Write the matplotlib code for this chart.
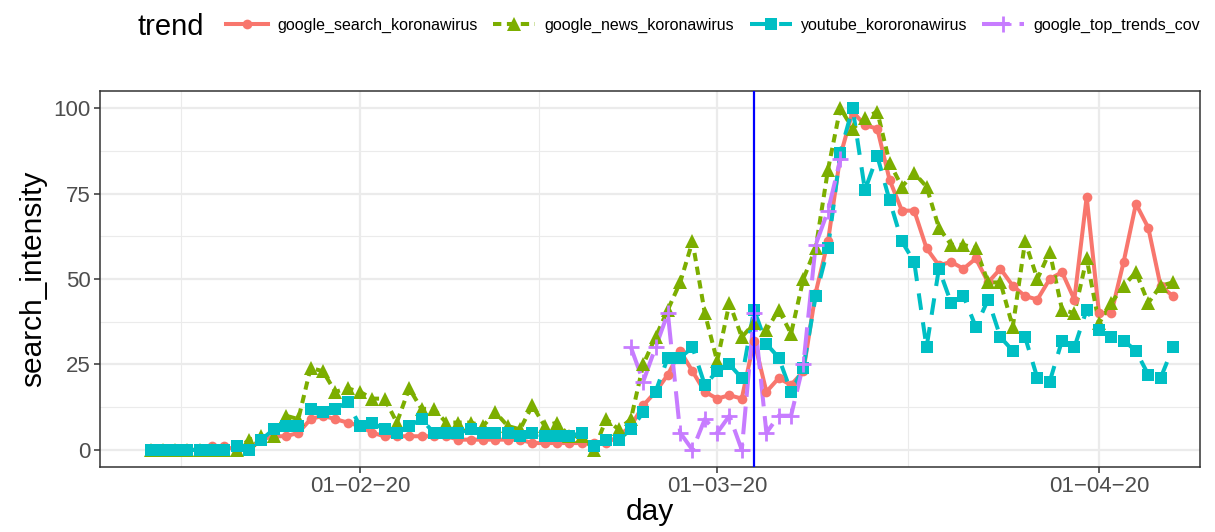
import numpy as np
import pandas as pd
import matplotlib
matplotlib.use("Agg")
import matplotlib.pyplot as plt
import matplotlib.dates as mdates

plt.rcParams['font.family'] = ['Liberation Sans', 'DejaVu Sans']
plt.rcParams['lines.scale_dashes'] = False

# ---------------- data ----------------
start_date = "2020-01-15"
end_date = "2020-04-07"
event_date = "2020-03-04"

trend_names = ["google_search_koronawirus", "google_news_koronawirus",
               "youtube_kororonawirus", "google_top_trends_cov"]

google_search = [0, 0, 0, 0, 0, 1, 1, 0, 0, 3,
                 4, 4, 5, 9, 10, 9, 8, 7, 5, 4,
                 4, 4, 4, 4, 4, 3, 3, 3, 3, 3,
                 3, 2, 2, 2, 2, 2, 2, 2, 4, 7,
                 13, 17, 22, 29, 23, 17, 15, 16, 15, 32,
                 17, 21, 19, 23, 46, 61, 86, 99, 95, 94,
                 79, 70, 70, 59, 54, 55, 53, 56, 49, 53,
                 48, 45, 44, 50, 52, 44, 74, 40, 40, 55,
                 72, 65, 48, 45]

google_news = [0, 0, 0, 0, 0, 0, 0, 0, 3, 4,
               4, 10, 9, 24, 23, 17, 18, 17, 15, 15,
               8, 18, 12, 12, 8, 8, 8, 7, 11, 7,
               6, 13, 7, 8, 4, 4, 0, 9, 6, 9,
               25, 33, 41, 49, 61, 40, 26, 43, 33, 37,
               35, 41, 34, 50, 59, 82, 100, 94, 97, 99,
               84, 77, 81, 77, 65, 60, 60, 59, 49, 49,
               36, 61, 50, 58, 41, 40, 56, 37, 43, 48,
               52, 43, 48, 49]

youtube = [0, 0, 0, 0, 0, 0, 0, 1, 0, 3,
           6, 7, 7, 12, 11, 12, 14, 7, 8, 6,
           5, 7, 9, 5, 5, 5, 6, 5, 5, 5,
           4, 5, 4, 4, 4, 5, 1, 3, 3, 6,
           11, 17, 27, 27, 30, 19, 23, 25, 21, 41,
           31, 27, 17, 24, 45, 59, 87, 100, 76, 86,
           73, 61, 55, 30, 53, 43, 45, 36, 44, 33,
           29, 33, 21, 20, 32, 30, 41, 35, 33, 32,
           29, 22, 21, 30]

nan = np.nan
top_trends = [nan] * 39 + [30, 20, 30, 40, 5, 0, 9, 5, 10, 0,
                           40, 5, 10, 10, 25, 60, 70, 85] + [nan] * 27

# ---------------- styling ----------------
colors = ["#F8766D", "#7CAE00", "#00BFC4", "#C77CFF"]
markers = ["o", "^", "s", "+"]
msizes = [7, 9.5, 8.5, 12]
dash_styles = ["-", (0, (6, 4)), (0, (12, 9)), (0, (20, 7))]

W, H = 1215, 532
fig = plt.figure(figsize=(W / 100, H / 100), dpi=100)
ax = fig.add_axes([100 / W, 1 - 467 / H, (1200 - 100) / W, (467 - 91) / H])

dates = pd.date_range(start_date, end_date, freq="D")
series = [google_search, google_news, youtube, top_trends]

handles = []
for vals, c, m, ms, ls, name in zip(series, colors, markers, msizes, dash_styles, trend_names):
    y = np.array(vals, dtype=float)
    ax.plot(dates, y, color=c, lw=2.9, linestyle=ls, zorder=2, solid_capstyle='butt',
            dash_capstyle='butt')
    ax.plot(dates, y, color=c, lw=0, marker=m, markersize=ms,
            markeredgewidth=(2.0 if m == "+" else 0), markeredgecolor=c, zorder=3)
    h, = ax.plot([], [], color=c, lw=2.9, linestyle=ls, marker=m, markersize=ms,
                 markeredgewidth=(2.0 if m == "+" else 0), markeredgecolor=c, label=name)
    handles.append(h)

ax.axvline(pd.Timestamp(event_date), color="#0000FF", lw=1.6, zorder=5)

# axes limits
ax.set_xlim(dates[0] - pd.Timedelta(days=4.1), dates[-1] + pd.Timedelta(days=2.2))
ax.set_ylim(-5, 105)

ax.set_yticks([0, 25, 50, 75, 100])
ax.set_yticks([12.5, 37.5, 62.5, 87.5], minor=True)
major_x = pd.to_datetime(["2020-02-01", "2020-03-01", "2020-04-01"])
minor_x = pd.to_datetime(["2020-01-17 12:00", "2020-02-15 12:00", "2020-03-16 12:00"])
ax.set_xticks(major_x)
ax.set_xticks(minor_x, minor=True)
ax.xaxis.set_major_formatter(mdates.DateFormatter("%d\u2212%m\u2212%y"))

ax.grid(True, which="major", color="#EBEBEB", lw=1.6, zorder=0)
ax.grid(True, which="minor", color="#EBEBEB", lw=0.8, zorder=0)
ax.set_axisbelow(True)

for s in ax.spines.values():
    s.set_color("#333333")
    s.set_linewidth(1.1)

ax.tick_params(axis="both", which="major", length=4, width=1.1, color="#333333",
               labelcolor="#4D4D4D", labelsize=16, pad=2.5)
ax.tick_params(axis="both", which="minor", length=0)

ax.set_xlabel("day", fontsize=21.5, color="black", labelpad=1)
ax.set_ylabel("search_intensity", fontsize=21.5, color="black", labelpad=5)

# legend on top
fig.text(137 / W, 1 - 27 / H, "trend", fontsize=21, va="center", ha="left")
key_starts = [226, 493, 750, 982]
for h, x0 in zip(handles, key_starts):
    fig.legend(handles=[h], loc="center left", bbox_to_anchor=(x0 / W, 1 - 25 / H),
               frameon=False, fontsize=11.5, handlelength=2.6, handletextpad=0.6,
               borderaxespad=0, borderpad=0, numpoints=1)

fig.savefig("out.png", dpi=100)
